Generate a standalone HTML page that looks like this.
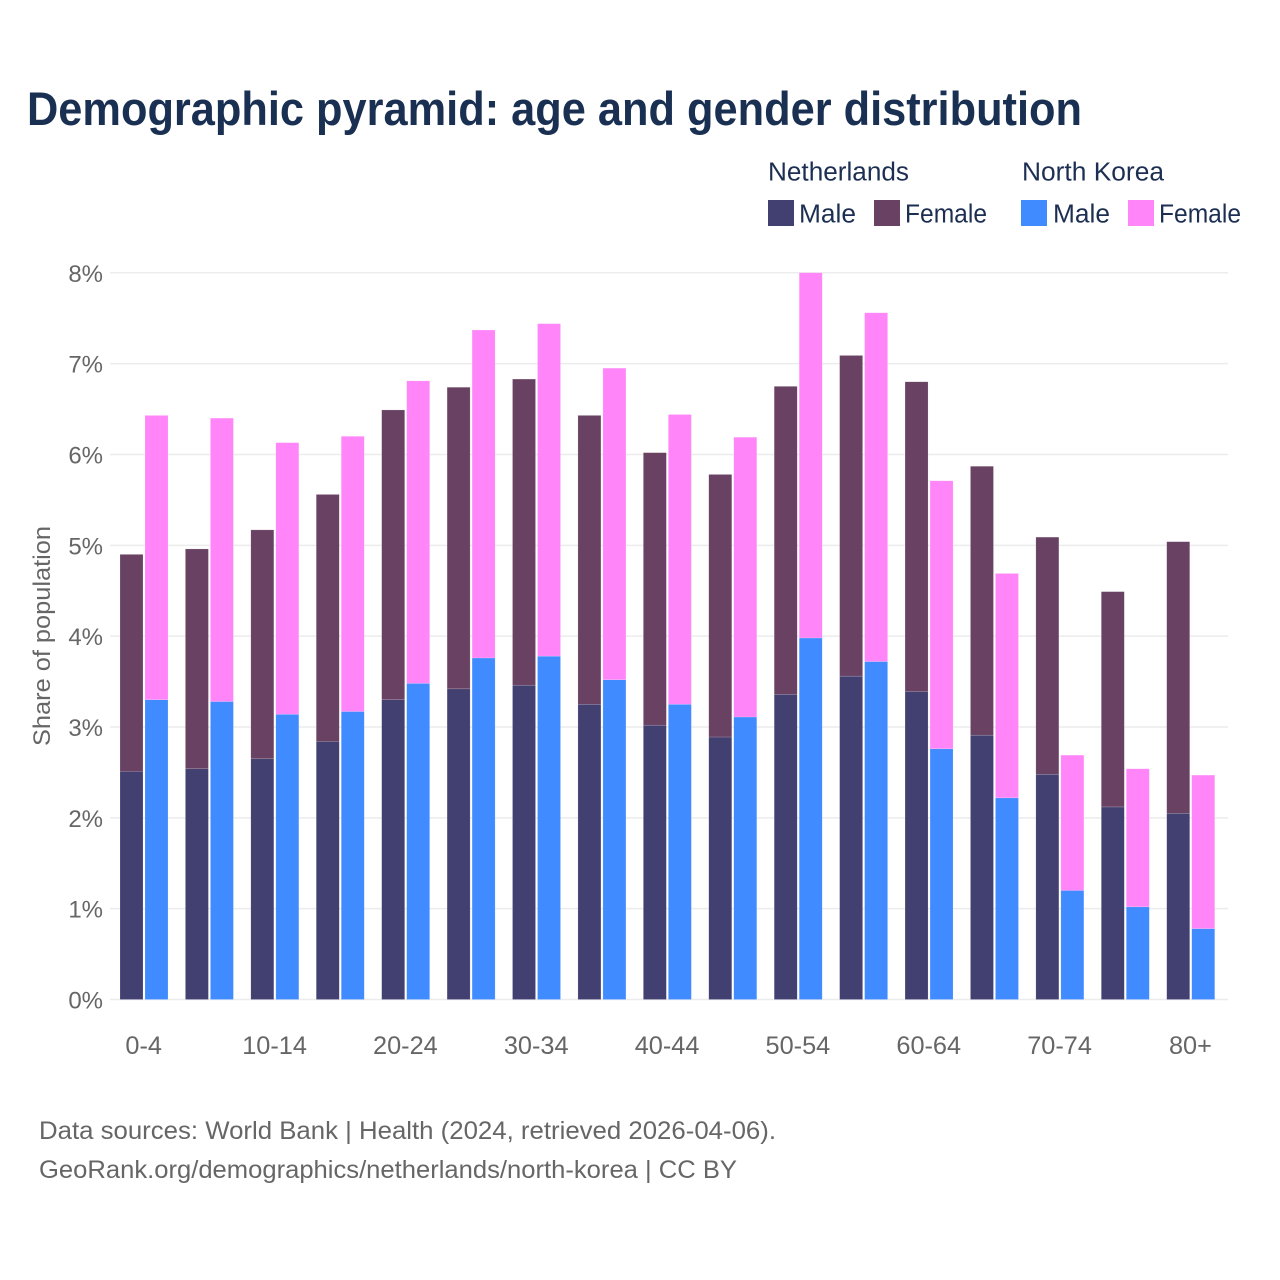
<!DOCTYPE html>
<html lang="en">
<head>
<meta charset="utf-8">
<title>Demographic pyramid: age and gender distribution</title>
<style>
html,body{margin:0;padding:0;background:#fff;width:1280px;height:1280px;overflow:hidden}
svg{display:block}
text{font-family:"Liberation Sans",sans-serif}
</style>
</head>
<body>
<svg id="chart" width="1280" height="1280" viewBox="0 0 1280 1280" xmlns="http://www.w3.org/2000/svg">
  <rect width="1280" height="1280" fill="#ffffff"/>
  <text x="27" y="125" font-size="47" font-weight="700" fill="#1a3052" textLength="1055" lengthAdjust="spacingAndGlyphs">Demographic pyramid: age and gender distribution</text>

  <g font-size="25.5" fill="#1c2f52">
    <text x="768" y="180.5" textLength="141" lengthAdjust="spacingAndGlyphs">Netherlands</text>
    <text x="1022" y="180.5" textLength="142" lengthAdjust="spacingAndGlyphs">North Korea</text>
    <rect x="768" y="200" width="26" height="26" fill="#423f71"/>
    <text x="799" y="222.5" textLength="57" lengthAdjust="spacingAndGlyphs">Male</text>
    <rect x="874" y="200" width="26" height="26" fill="#694162"/>
    <text x="905" y="222.5" textLength="82" lengthAdjust="spacingAndGlyphs">Female</text>
    <rect x="1021" y="200" width="26" height="26" fill="#3f8bff"/>
    <text x="1053" y="222.5" textLength="57" lengthAdjust="spacingAndGlyphs">Male</text>
    <rect x="1128" y="200" width="26" height="26" fill="#ff85f8"/>
    <text x="1159" y="222.5" textLength="82" lengthAdjust="spacingAndGlyphs">Female</text>
  </g>

  <g id="grid"></g>
  <g id="bars"></g>
  <g id="yticks"></g>
  <g id="xticks"></g>

  <text transform="translate(50,636) rotate(-90)" text-anchor="middle" font-size="24" fill="#666666" textLength="220" lengthAdjust="spacingAndGlyphs">Share of population</text>

  <text x="39" y="1139" font-size="25" fill="#666666" textLength="737" lengthAdjust="spacingAndGlyphs">Data sources: World Bank | Health (2024, retrieved 2026-04-06).</text>
  <text x="39" y="1178" font-size="25" fill="#666666" textLength="698" lengthAdjust="spacingAndGlyphs">GeoRank.org/demographics/netherlands/north-korea | CC BY</text>
</svg>
<script>
const categories = ["0-4","5-9","10-14","15-19","20-24","25-29","30-34","35-39","40-44","45-49","50-54","55-59","60-64","65-69","70-74","75-79","80+"];
const shownCategories = ["0-4","10-14","20-24","30-34","40-44","50-54","60-64","70-74","80+"];
const netherlandsMale = [2.51,2.54,2.65,2.84,3.30,3.42,3.46,3.25,3.02,2.89,3.36,3.56,3.39,2.91,2.48,2.12,2.05];
const netherlandsFemale = [2.39,2.42,2.52,2.72,3.19,3.32,3.37,3.18,3.00,2.89,3.39,3.53,3.41,2.96,2.61,2.37,2.99];
const northKoreaMale = [3.30,3.28,3.14,3.17,3.48,3.76,3.78,3.52,3.25,3.11,3.98,3.72,2.76,2.22,1.20,1.02,0.78];
const northKoreaFemale = [3.13,3.12,2.99,3.03,3.33,3.61,3.66,3.43,3.19,3.08,4.02,3.84,2.95,2.47,1.49,1.52,1.69];
const yTickValues = [0,1,2,3,4,5,6,7,8];

const NS = "http://www.w3.org/2000/svg";
const plotLeft = 110, plotRight = 1228, plotTop = 272.8, plotBottom = 999.5;
const yMax = 8;
const bandStart = 120, bandStep = 65.42, barWidth = 23, barOffset = 25;

function yScale(v) {
  return plotBottom - (v / yMax) * (plotBottom - plotTop);
}
function xScale(i) {
  return bandStart + i * bandStep;
}
function make(tag, attrs, parent) {
  const el = document.createElementNS(NS, tag);
  for (const k in attrs) el.setAttribute(k, attrs[k]);
  parent.appendChild(el);
  return el;
}

const gridGroup = document.getElementById("grid");
const yTickGroup = document.getElementById("yticks");
yTickValues.forEach(function (t) {
  const line = make("line", {x1: plotLeft, x2: plotRight, y1: yScale(t), y2: yScale(t), stroke: "#ececec", "stroke-width": 1.5}, gridGroup);
  
  
  const label = make("text", {x: 103, y: yScale(t) + 9, "text-anchor": "end", "font-size": 24, fill: "#666666"}, yTickGroup);
  
  
  label.textContent = t + "%";
});

const barGroup = document.getElementById("bars");
function drawBar(x, base, value, color) {
  const top = yScale(base + value);
  const bar = make("rect", {x: x, y: top, width: barWidth, height: yScale(base) - top, fill: color, stroke: "#ffffff", "stroke-opacity": 0.3, "stroke-width": 0.5}, barGroup);
  
  
}
categories.forEach(function (c, i) {
  const x = xScale(i);
  drawBar(x, 0, netherlandsMale[i], "#423f71");
  drawBar(x, netherlandsMale[i], netherlandsFemale[i], "#694162");
  drawBar(x + barOffset, 0, northKoreaMale[i], "#3f8bff");
  drawBar(x + barOffset, northKoreaMale[i], northKoreaFemale[i], "#ff85f8");
});

const xTickGroup = document.getElementById("xticks");
categories.forEach(function (c, i) {
  if (shownCategories.indexOf(c) === -1) return;
  const label = make("text", {x: xScale(i) + 23.7, y: 1054, "text-anchor": "middle", "font-size": 25.3, fill: "#666666"}, xTickGroup);
  
  
  label.textContent = c;
});
</script>
</body>
</html>
